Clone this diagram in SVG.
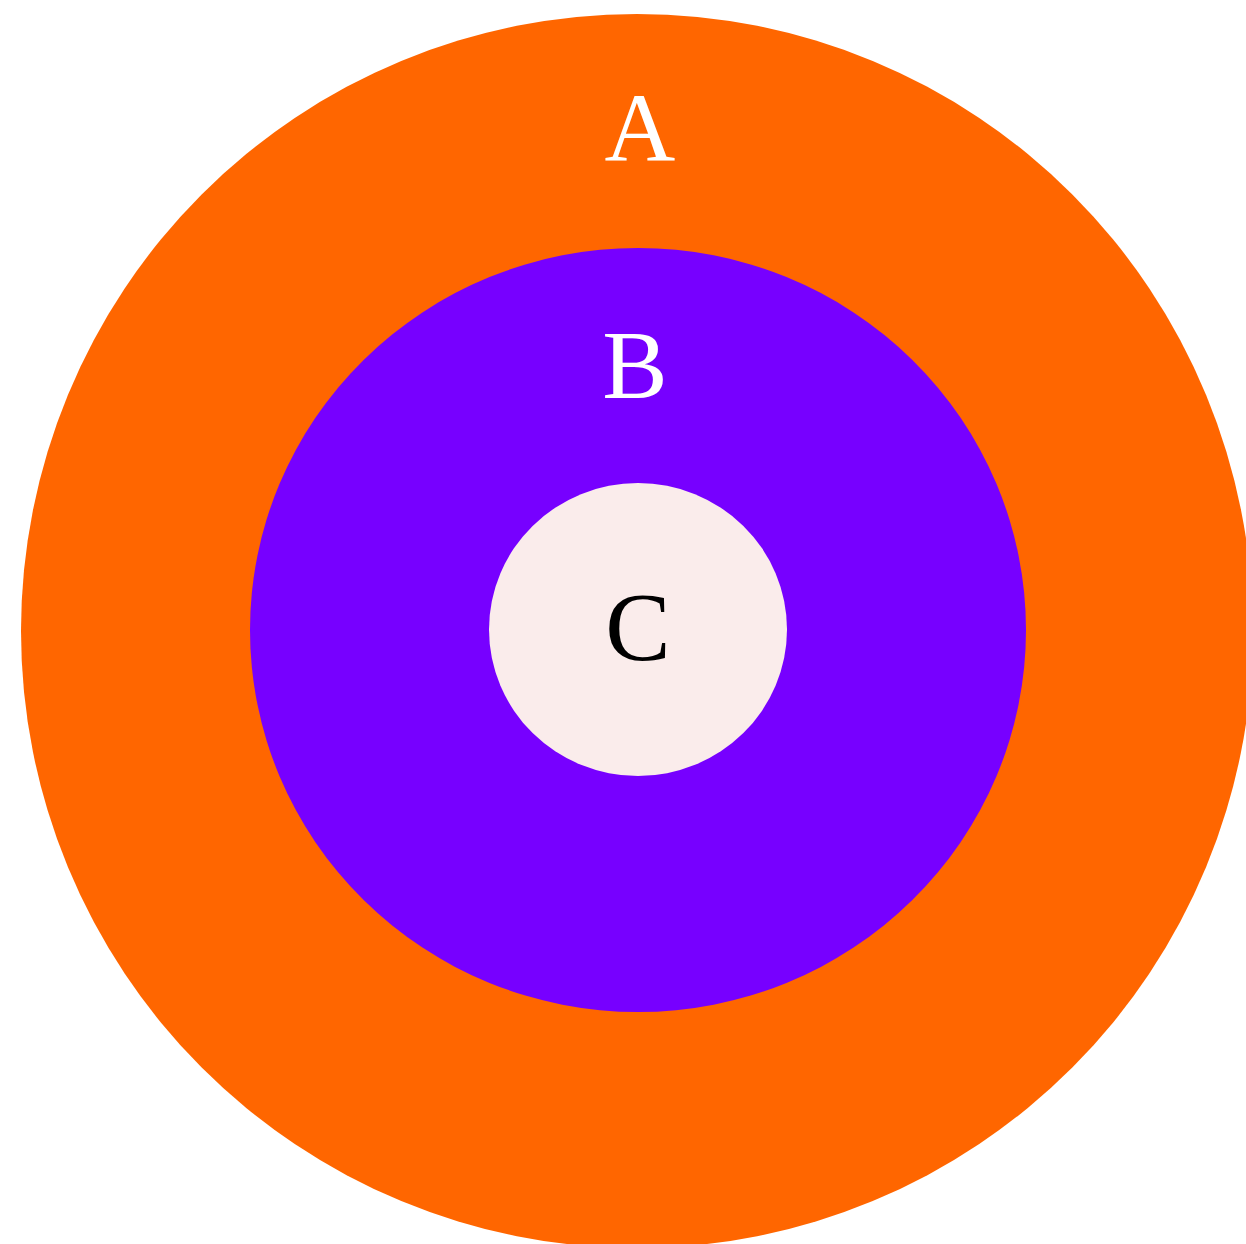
<svg xmlns="http://www.w3.org/2000/svg" width="1246" height="1244" viewBox="0 0 1246 1244">
<style>
.lbl{font-family:"Liberation Serif","DejaVu Serif",serif;font-size:98px;text-anchor:middle}
</style>
<rect width="1246" height="1244" fill="#ffffff"/>
<g id="nodeA">
<ellipse cx="637" cy="631" rx="616" ry="617" fill="#ff6600"/>
<text class="lbl" x="640" y="160" fill="#ffffff">A</text>
</g>
<g id="nodeB">
<ellipse cx="638" cy="630" rx="388" ry="382" fill="#7700ff"/>
<text class="lbl" x="635" y="398" fill="#ffffff">B</text>
</g>
<g id="nodeC">
<ellipse cx="638" cy="629.5" rx="149" ry="146.5" fill="#faeceb"/>
<text class="lbl" x="638" y="660" fill="#000000">C</text>
</g>
<g id="connectors"></g>
</svg>
